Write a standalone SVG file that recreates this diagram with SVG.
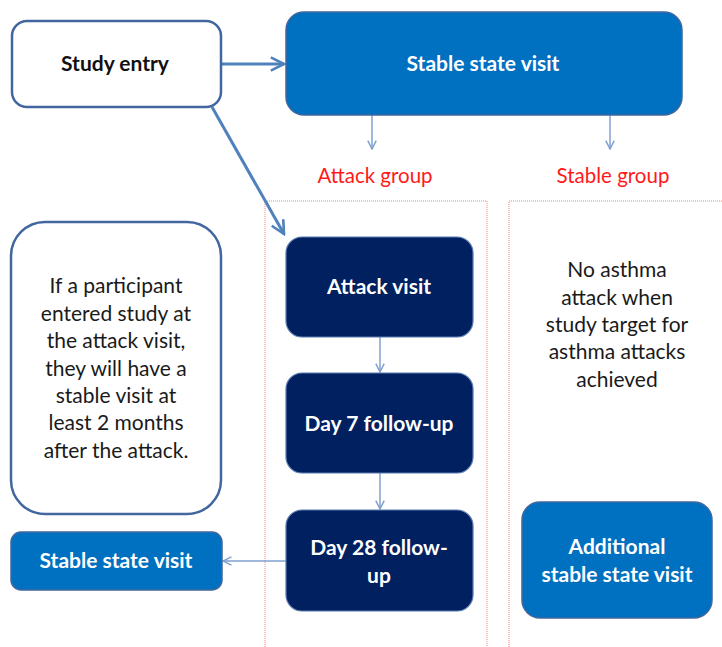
<svg xmlns="http://www.w3.org/2000/svg" width="722" height="647" viewBox="0 0 722 647">
<defs>
<style>
.t{font-family:Lato,"Liberation Sans",sans-serif;text-anchor:middle;}
.b{font-weight:bold;font-size:21px;}
.w{fill:#ffffff;}
.k{fill:#1a1a1a;font-size:21px;}
.r{fill:#ff1a1a;font-size:20.5px;}
.mid{fill:#0070c0;stroke:#41679e;stroke-width:1.5;}
.navy{fill:#002060;stroke:#5b7bb0;stroke-width:1.2;}
.wb{fill:#ffffff;stroke:#41679e;stroke-width:2.5;}
.grp{fill:none;stroke:#ff7a7a;stroke-width:1;stroke-dasharray:1 1;}
.thick{stroke:#4f81bd;stroke-width:3;fill:none;}
.thin{stroke:#7fa0d0;stroke-width:1.5;fill:none;}
</style>
<marker id="ah" viewBox="0 0 10 10" refX="9" refY="5" markerWidth="5.5" markerHeight="5.5" orient="auto" markerUnits="strokeWidth">
<path d="M1,1 L9,5 L1,9" fill="none" stroke="#4f81bd" stroke-width="1.6"/>
</marker>
<marker id="as" viewBox="0 0 10 10" refX="9" refY="5" markerWidth="7" markerHeight="7" orient="auto" markerUnits="strokeWidth">
<path d="M1,1 L9,5 L1,9" fill="none" stroke="#7fa0d0" stroke-width="1.4"/>
</marker>
</defs>
<rect width="722" height="647" fill="#ffffff"/>

<g id="groups">
<rect class="grp" x="265" y="201" width="222" height="460"/>
<rect class="grp" x="509" y="201" width="230" height="460"/>
</g>

<g id="connectors">
<line class="thick" x1="221" y1="64" x2="284" y2="64" marker-end="url(#ah)"/>
<line class="thick" x1="212" y1="107" x2="284" y2="234" marker-end="url(#ah)"/>
<line class="thin" x1="372" y1="115" x2="372" y2="149" marker-end="url(#as)"/>
<line class="thin" x1="610" y1="115" x2="610" y2="149" marker-end="url(#as)"/>
<line class="thin" x1="380" y1="337" x2="380" y2="372" marker-end="url(#as)"/>
<line class="thin" x1="380" y1="473" x2="380" y2="509" marker-end="url(#as)"/>
<line class="thin" x1="286" y1="561" x2="223" y2="561" marker-end="url(#as)"/>
</g>

<g id="study-entry">
<rect class="wb" x="12" y="21" width="209" height="86" rx="15"/>
<text class="t b" x="115" y="71" fill="#111">Study entry</text>
</g>

<g id="stable-state-visit-top">
<rect class="mid" x="286" y="12" width="396" height="103" rx="18"/>
<text class="t b w" x="483" y="71">Stable state visit</text>
</g>

<g id="attack-group-label">
<text class="t r" x="375" y="183">Attack group</text>
</g>
<g id="stable-group-label">
<text class="t r" x="613" y="183">Stable group</text>
</g>

<g id="note">
<rect class="wb" x="11" y="222" width="210" height="292" rx="34"/>
<text class="t k" x="116" y="293">If a participant</text>
<text class="t k" x="116" y="321">entered study at</text>
<text class="t k" x="116" y="348">the attack visit,</text>
<text class="t k" x="116" y="376">they will have a</text>
<text class="t k" x="116" y="403">stable visit at</text>
<text class="t k" x="116" y="430">least 2 months</text>
<text class="t k" x="116" y="458">after the attack.</text>
</g>

<g id="attack-visit">
<rect class="navy" x="286" y="237" width="187" height="100" rx="16"/>
<text class="t b w" x="379" y="294">Attack visit</text>
</g>

<g id="day7">
<rect class="navy" x="286" y="373" width="187" height="100" rx="16"/>
<text class="t b w" x="379" y="431">Day 7 follow-up</text>
</g>

<g id="day28">
<rect class="navy" x="286" y="510" width="187" height="101" rx="16"/>
<text class="t b w" x="379" y="555">Day 28 follow-</text>
<text class="t b w" x="379" y="583">up</text>
</g>

<g id="stable-state-visit-bottom">
<rect class="mid" x="11" y="532" width="211" height="58" rx="10"/>
<text class="t b w" x="116" y="568">Stable state visit</text>
</g>

<g id="no-attack-note">
<text class="t k" x="617" y="277">No asthma</text>
<text class="t k" x="617" y="305">attack when</text>
<text class="t k" x="617" y="332">study target for</text>
<text class="t k" x="617" y="359">asthma attacks</text>
<text class="t k" x="617" y="387">achieved</text>
</g>

<g id="additional-visit">
<rect class="mid" x="522" y="502" width="190" height="116" rx="18"/>
<text class="t b w" x="617" y="554">Additional</text>
<text class="t b w" x="617" y="582">stable state visit</text>
</g>
</svg>
